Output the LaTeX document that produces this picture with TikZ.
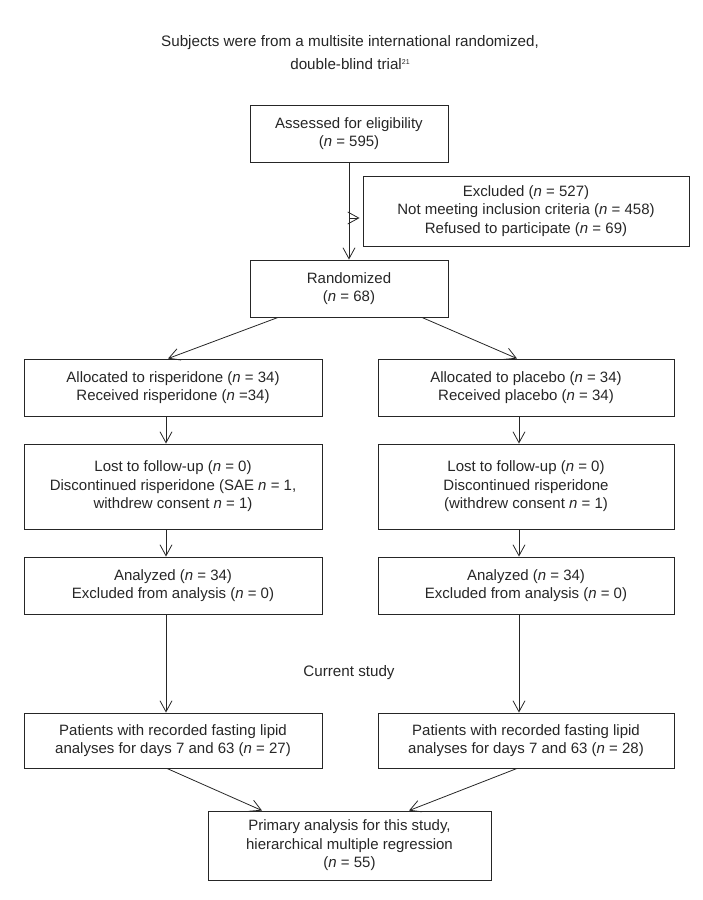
\documentclass[tikz,border=0pt]{standalone}
\usepackage{fontspec}
\setmainfont{Liberation Sans}
\usetikzlibrary{arrows.meta}
\definecolor{ink}{gray}{0.15}
\newcommand{\tinysup}[1]{\raisebox{5pt}{\fontsize{7}{7}\selectfont #1}}
\tikzset{
  box/.style={draw=ink, line width=0.9pt, text=ink, align=center, inner sep=0pt,
    font=\fontsize{15}{18.5}\selectfont},
  conn/.style={draw=ink, line width=0.8pt, -{Straight Barb[length=11pt,width=12pt,line width=0.8pt]}},
  plain/.style={text=ink, align=center, font=\fontsize{15.2}{23}\selectfont}
}
\begin{document}
\begin{tikzpicture}[x=1pt,y=-1pt]
\useasboundingbox (0,0) rectangle (703,900);
\node[plain] (title) at (350,53) {Subjects were from a multisite international randomized,\\double-blind trial\tinysup{21}};
\node[box, minimum width=198pt, minimum height=57pt] (assessed) at (349,133.5) {Assessed for eligibility\\(\textit{n} = 595)};
\node[box, minimum width=326pt, minimum height=70pt] (excluded) at (526,211) {Excluded (\textit{n} = 527)\\Not meeting inclusion criteria (\textit{n} = 458)\\Refused to participate (\textit{n} = 69)};
\node[box, minimum width=198pt, minimum height=57pt] (random) at (349,288.5) {Randomized\\(\textit{n} = 68)};
\node[box, minimum width=298pt, minimum height=57pt] (allocL) at (173,387.5) {Allocated to risperidone (\textit{n} = 34)\\Received risperidone (\textit{n} =34)};
\node[box, minimum width=296pt, minimum height=57pt] (allocR) at (526,387.5) {Allocated to placebo (\textit{n} = 34)\\Received placebo (\textit{n} = 34)};
\node[box, minimum width=298pt, minimum height=85pt] (lostL) at (173,486.5) {Lost to follow-up (\textit{n} = 0)\\Discontinued risperidone (SAE \textit{n} = 1,\\withdrew consent \textit{n} = 1)};
\node[box, minimum width=296pt, minimum height=85pt] (lostR) at (526,486.5) {Lost to follow-up (\textit{n} = 0)\\Discontinued risperidone\\(withdrew consent \textit{n} = 1)};
\node[box, minimum width=298pt, minimum height=57pt] (analL) at (173,585.5) {Analyzed (\textit{n} = 34)\\Excluded from analysis (\textit{n} = 0)};
\node[box, minimum width=296pt, minimum height=57pt] (analR) at (526,585.5) {Analyzed (\textit{n} = 34)\\Excluded from analysis (\textit{n} = 0)};
\node[plain] (current) at (349,673) {Current study};
\node[box, minimum width=298pt, minimum height=55pt] (patL) at (173,740.5) {Patients with recorded fasting lipid\\analyses for days 7 and 63 (\textit{n} = 27)};
\node[box, minimum width=296pt, minimum height=55pt] (patR) at (526,740.5) {Patients with recorded fasting lipid\\analyses for days 7 and 63 (\textit{n} = 28)};
\node[box, minimum width=283pt, minimum height=69pt] (primary) at (349.5,845.5) {Primary analysis for this study,\\hierarchical multiple regression\\(\textit{n} = 55)};
% connectors
\draw[conn] (assessed.south) -- (random.north);
\coordinate (side) at (349,218);
\draw[conn, shorten >=3pt] (side) -- (side -| excluded.west);
\draw[conn] ([xshift=-71pt]random.south) -- ([xshift=-5pt]allocL.north);
\draw[conn] ([xshift=73pt]random.south) -- ([xshift=-9pt]allocR.north);
\draw[conn] ([xshift=-7pt]allocL.south) -- ([xshift=-7pt]lostL.north);
\draw[conn] ([xshift=-7pt]allocR.south) -- ([xshift=-7pt]lostR.north);
\draw[conn] ([xshift=-7pt]lostL.south) -- ([xshift=-7pt]analL.north);
\draw[conn] ([xshift=-7pt]lostR.south) -- ([xshift=-7pt]analR.north);
\draw[conn] ([xshift=-7pt]analL.south) -- ([xshift=-7pt]patL.north);
\draw[conn] ([xshift=-7pt]analR.south) -- ([xshift=-7pt]patR.north);
\draw[conn] ([xshift=-6pt]patL.south) -- ([xshift=-87.5pt]primary.north);
\draw[conn] ([xshift=-9pt]patR.south) -- ([xshift=59.5pt]primary.north);
\end{tikzpicture}
\end{document}
